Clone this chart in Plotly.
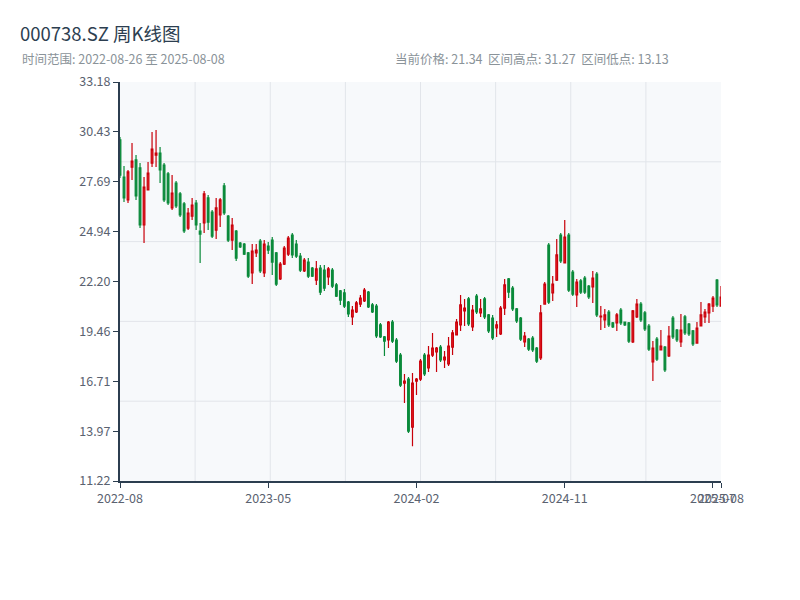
import pandas as pd
import plotly.graph_objects as go

# weekly bars (week-ending Friday); weeks with no trading are absent
all_weeks = pd.date_range("2022-08-26", "2025-08-08", freq="W-FRI")
closed_weeks = ["2022-10-07", "2023-01-27", "2023-10-06", "2024-02-16"]
dates = [d.strftime("%Y-%m-%d") for d in all_weeks if d.strftime("%Y-%m-%d") not in closed_weeks]

open_ = [29.99, 27.95, 26.69, 28.50, 28.89, 28.45, 25.31, 27.24, 28.72, 29.16,
         29.27, 28.61, 28.12, 26.25, 27.62, 27.02, 26.47, 25.14, 25.80, 26.52,
         24.98, 25.42, 26.80, 26.02, 25.03, 25.86, 27.46, 25.80, 24.48, 24.98,
         24.32, 24.26, 23.77, 22.67, 23.77, 24.43, 22.67, 24.15, 24.48, 23.77,
         22.34, 23.16, 23.71, 24.76, 24.26, 23.60, 22.78, 23.27, 22.94, 22.28,
         22.94, 22.83, 22.45, 22.83, 22.01, 21.68, 21.57, 21.07, 20.25, 20.52,
         20.96, 21.13, 21.62, 20.91, 20.85, 19.81, 19.15, 18.98, 19.97, 18.98,
         18.15, 16.61, 16.83, 14.19, 16.72, 16.83, 18.15, 17.44, 18.15, 18.32,
         18.59, 17.88, 17.66, 18.59, 19.26, 19.81, 20.58, 21.24, 19.70, 21.40,
         20.47, 21.24, 20.36, 20.19, 19.64, 19.31, 20.74, 22.34, 21.84, 20.69,
         20.19, 18.87, 19.03, 19.09, 18.54, 17.99, 20.96, 24.21, 21.57, 22.28,
         24.76, 23.22, 24.76, 22.72, 21.46, 22.23, 22.39, 21.95, 21.90, 22.61,
         20.25, 20.08, 20.52, 19.92, 19.92, 20.63, 19.97, 19.92, 18.87, 20.25,
         20.96, 20.47, 19.75, 17.77, 19.03, 18.43, 18.59, 18.10, 20.19, 19.53,
         18.87, 20.25, 19.86, 19.48, 18.81, 19.75, 20.25, 20.47, 20.85, 22.28,
         20.85]
high = [30.15, 28.56, 28.34, 29.82, 29.16, 28.72, 27.95, 28.78, 30.43, 30.54,
        29.60, 28.72, 28.23, 28.06, 27.73, 27.13, 26.58, 26.25, 26.80, 26.69,
        25.42, 27.18, 26.96, 26.14, 26.80, 26.80, 27.62, 25.86, 25.69, 25.03,
        24.37, 24.32, 23.82, 24.26, 24.26, 24.54, 24.48, 24.37, 24.65, 23.82,
        23.27, 24.15, 24.70, 24.87, 24.48, 23.77, 23.49, 23.49, 23.00, 23.33,
        23.11, 23.11, 23.00, 22.94, 22.12, 21.73, 21.79, 21.13, 20.85, 21.13,
        21.46, 21.84, 21.68, 21.02, 20.96, 19.92, 19.20, 20.03, 20.08, 19.09,
        18.26, 17.11, 16.94, 17.16, 16.89, 17.93, 18.26, 18.65, 19.37, 18.59,
        18.70, 18.37, 19.15, 19.53, 20.14, 21.46, 21.24, 21.35, 20.91, 21.51,
        21.24, 21.35, 20.41, 20.36, 20.03, 20.85, 22.34, 22.39, 21.95, 20.74,
        20.25, 19.42, 19.09, 19.20, 18.59, 20.91, 22.17, 24.32, 22.50, 24.54,
        24.87, 25.58, 24.87, 22.83, 22.34, 22.34, 22.50, 22.01, 22.78, 22.72,
        20.85, 20.69, 20.63, 19.97, 20.47, 20.74, 19.99, 19.97, 20.63, 21.24,
        21.07, 20.58, 19.86, 18.92, 19.15, 19.53, 18.65, 19.75, 20.30, 19.59,
        20.41, 20.36, 19.92, 19.53, 19.97, 21.07, 20.69, 21.02, 21.40, 22.34,
        21.95]
low = [27.90, 26.58, 26.52, 27.79, 26.69, 25.14, 24.32, 27.24, 28.50, 28.50,
       27.62, 26.58, 26.41, 26.14, 26.25, 25.75, 24.87, 25.03, 25.58, 25.03,
       23.22, 24.87, 25.03, 24.59, 24.54, 25.20, 25.86, 24.37, 23.93, 23.33,
       24.04, 23.66, 22.39, 22.06, 23.55, 22.67, 22.45, 23.71, 22.56, 21.95,
       22.28, 23.11, 23.60, 23.49, 23.49, 22.72, 22.72, 22.39, 22.45, 22.01,
       21.46, 21.68, 22.01, 21.84, 21.35, 20.91, 20.74, 20.25, 19.81, 20.47,
       20.80, 21.07, 20.74, 20.47, 19.09, 19.09, 18.10, 18.54, 18.81, 17.71,
       16.39, 15.51, 13.86, 13.13, 15.95, 16.72, 17.00, 17.22, 18.04, 17.22,
       17.77, 17.44, 17.55, 18.15, 19.26, 19.48, 19.75, 19.75, 19.48, 20.41,
       20.25, 20.14, 19.37, 18.98, 19.15, 19.26, 20.36, 21.29, 20.58, 19.92,
       18.92, 18.59, 18.37, 18.32, 17.71, 17.88, 20.96, 20.96, 21.13, 22.23,
       23.22, 23.22, 21.62, 21.40, 20.80, 21.51, 21.51, 21.24, 21.02, 20.25,
       19.53, 19.64, 19.70, 19.64, 19.48, 19.81, 19.75, 18.81, 18.81, 20.19,
       19.97, 19.48, 18.37, 16.72, 17.82, 18.43, 17.22, 18.04, 19.03, 18.87,
       18.59, 19.26, 19.20, 18.65, 18.81, 19.75, 19.92, 19.92, 20.52, 20.80,
       20.85]
close = [28.06, 26.80, 28.23, 28.83, 26.91, 25.31, 27.40, 28.17, 29.49, 29.27,
         28.34, 26.69, 26.52, 27.07, 26.36, 25.86, 24.98, 25.97, 26.41, 25.31,
         24.81, 27.02, 25.47, 24.70, 26.25, 26.69, 25.97, 24.48, 25.31, 23.49,
         24.10, 23.71, 22.50, 23.88, 23.93, 22.78, 24.26, 23.93, 23.27, 22.06,
         23.16, 24.04, 24.59, 23.66, 23.60, 22.83, 23.38, 22.50, 22.50, 22.89,
         21.62, 21.84, 22.89, 21.95, 21.40, 21.18, 20.85, 20.41, 20.63, 21.02,
         21.29, 21.73, 20.80, 20.52, 19.20, 19.15, 18.92, 19.97, 18.92, 17.82,
         16.50, 16.72, 13.97, 16.61, 16.83, 17.82, 17.11, 18.15, 18.54, 18.54,
         17.88, 18.04, 18.65, 19.37, 19.97, 20.91, 20.74, 19.86, 20.63, 20.52,
         20.69, 20.25, 19.48, 19.09, 19.81, 20.74, 22.01, 21.62, 20.69, 20.03,
         19.03, 19.20, 18.48, 18.43, 17.82, 20.47, 22.06, 21.07, 22.06, 23.66,
         23.33, 24.65, 21.73, 21.51, 22.17, 21.62, 21.62, 21.35, 22.39, 20.36,
         20.30, 20.36, 19.81, 19.70, 20.36, 19.92, 19.81, 18.92, 20.58, 20.96,
         20.08, 19.59, 18.48, 18.54, 17.93, 18.65, 17.33, 19.20, 19.15, 18.98,
         19.53, 19.37, 19.31, 18.76, 19.64, 20.36, 20.52, 20.96, 21.29, 20.91,
         21.34]

y_tick_vals = [11.22, 13.965, 16.71, 19.455, 22.20, 24.945, 27.69, 30.435, 33.18]
y_tick_text = ["11.22", "13.97", "16.71", "19.46", "22.20", "24.94", "27.69", "30.43", "33.18"]
x_tick_idx = [0, 37, 74, 111, 148, 150]
x_tick_vals = [dates[i] for i in x_tick_idx]
x_tick_text = [d[:7] for d in x_tick_vals]

title_text = "000738.SZ 周K线图"
range_text = "时间范围: 2022-08-26 至 2025-08-08"
stats_text = "当前价格: 21.34\u00a0\u00a0区间高点: 31.27\u00a0\u00a0区间低点: 13.13"

FONT = "Noto Sans CJK SC"
AX = "#2c3e50"
TICK = "#5a6270"
SUB = "#8a9399"

fig = go.Figure()
fig.add_trace(go.Candlestick(
    x=dates, open=open_, high=high, low=low, close=close,
    increasing=dict(line=dict(color="#c8000a", width=1.2), fillcolor="#f0262d"),
    decreasing=dict(line=dict(color="#0a8a3a", width=1.2), fillcolor="#0a8a3a"),
    showlegend=False, hoverinfo="x+y",
))

# light grid lines (8 vertical divisions, 5 horizontal divisions)
shapes = []
for k in range(1, 8):
    shapes.append(dict(type="line", xref="paper", yref="paper", x0=k / 8, x1=k / 8, y0=0, y1=1,
                       line=dict(color="#e2e5ea", width=1), layer="below"))
for k in range(1, 5):
    shapes.append(dict(type="line", xref="paper", yref="paper", x0=0, x1=1, y0=k / 5, y1=k / 5,
                       line=dict(color="#e2e5ea", width=1), layer="below"))

fig.update_layout(
    width=800, height=600,
    margin=dict(l=112, r=87, t=74, b=127),
    paper_bgcolor="white",
    plot_bgcolor="#f7f9fb",
    boxgap=0.4,
    font=dict(family=FONT, color=TICK, size=12),
    title=dict(text=title_text, x=0.015, xref="container", xanchor="left",
               y=0.955, yref="container", yanchor="middle",
               font=dict(family=FONT, size=18.5, color=AX)),
    shapes=shapes,
    xaxis=dict(
        type="category", range=[0, len(dates) - 1],
        tickmode="array", tickvals=x_tick_vals, ticktext=x_tick_text, tickangle=0,
        showgrid=False, zeroline=False,
        showline=True, linecolor=AX, linewidth=2,
        ticks="outside", ticklen=5, tickcolor=AX, tickwidth=1,
        rangeslider=dict(visible=False),
        tickfont=dict(family=FONT, size=12.5, color=TICK),
    ),
    yaxis=dict(
        range=[11.22, 33.18], tickmode="array", tickvals=y_tick_vals, ticktext=y_tick_text,
        showgrid=False, zeroline=False,
        showline=True, linecolor=AX, linewidth=2,
        ticks="outside", ticklen=5, tickcolor=AX, tickwidth=1,
        tickfont=dict(family=FONT, size=12.5, color=TICK),
    ),
    xaxis2=dict(
        overlaying="x", side="top", range=[0, 1], showline=True, linecolor=AX, linewidth=1,
        showgrid=False, zeroline=False, showticklabels=False, ticks="",
    ),
    yaxis2=dict(
        overlaying="y", side="right", range=[11.22, 33.18], tickmode="array", tickvals=y_tick_vals,
        showline=True, linecolor=AX, linewidth=1, showgrid=False, zeroline=False,
        showticklabels=False, ticks="outside", ticklen=5, tickcolor=AX,
    ),
    annotations=[
        dict(text=range_text, xref="paper", yref="paper", x=-0.1664, y=1.060,
             xanchor="left", yanchor="middle", showarrow=False,
             font=dict(family=FONT, size=12.5, color=SUB)),
        dict(text=stats_text, xref="paper", yref="paper", x=0.4542, y=1.060,
             xanchor="left", yanchor="middle", showarrow=False,
             font=dict(family=FONT, size=12.5, color=SUB)),
    ],
)

fig.write_html("out.html")
